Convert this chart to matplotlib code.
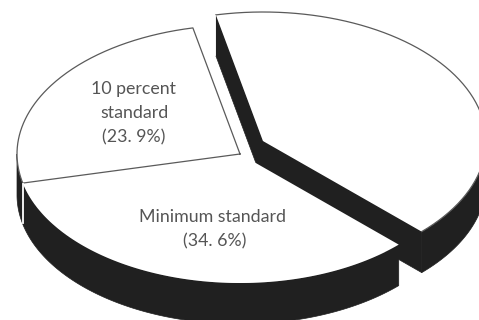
import numpy as np
import matplotlib
matplotlib.use("Agg")
import matplotlib.pyplot as plt

# Data
label_lines_a = ["10 percent", "standard", "(23. 9%)"]
label_lines_b = ["Minimum standard", "(34. 6%)"]
shares = [23.9, 34.6, 41.5]

# Layout (pixel-like axes)
CENTER = (240, 154)
EXPLODE = (23, -13)
RX, RY = 223, 129
DEPTH = 41
START = 102.4
DARK = "#202020"
EDGE = "#5a5a5a"


def warp(t):
    # the printed disk is drawn in slight perspective
    return t + 1.95 + 3.53 * np.sin(np.radians(t - 140))


def arc(c, a0, a1, n=200):
    t = np.radians(np.linspace(a0, a1, n))
    return c[0] + RX * np.cos(t), c[1] - RY * np.sin(t)


cum = START + np.concatenate([[0], np.cumsum(shares)]) * 3.6
edges = warp(cum)

fig = plt.figure(figsize=(4.79, 3.20), dpi=100)
ax = fig.add_axes([0, 0, 1, 1])
ax.set_xlim(0, 479)
ax.set_ylim(320, 0)
ax.axis("off")

c3 = (CENTER[0] + EXPLODE[0], CENTER[1] + EXPLODE[1])


def wall(xs, ys, z=1):
    ax.fill(np.r_[xs, xs[::-1]], np.r_[ys, ys[::-1] + DEPTH],
            color=DARK, lw=0.5, zorder=z, clip_on=True)


def cut_point(c, a):
    x, y = arc(c, a, a, 1)
    return x[0], y[0]


# Exploded slice: inner walls, outer wall, top
a0, a1 = edges[2], edges[3]
xa, ya = cut_point(c3, a0)
xb, yb = cut_point(c3, a1)
wall(np.array([xa, c3[0]]), np.array([ya, c3[1]]))
wall(np.array([c3[0], xb]), np.array([c3[1], yb]))
xs, ys = arc(c3, a0, 360)
wall(xs, ys)
xs, ys = arc(c3, a0, a1)
ax.fill(np.r_[c3[0], xs], np.r_[c3[1], ys], color="white", lw=0, zorder=2)
ax.plot(xs, ys, color=EDGE, lw=0.9, zorder=3)
ax.plot([xb - 1, xb - 1], [yb + 1, yb + DEPTH - 1], color="white", lw=1.3, zorder=3)

# Main disk: wall then tops
xs, ys = arc(CENTER, 180, edges[2])
wall(xs, ys, z=4)
for i in range(2):
    xs, ys = arc(CENTER, edges[i], edges[i + 1])
    ax.fill(np.r_[CENTER[0], xs], np.r_[CENTER[1], ys], color="white", lw=0, zorder=5)
xs, ys = arc(CENTER, edges[0], edges[1])
ax.plot(np.r_[CENTER[0], xs, CENTER[0]], np.r_[CENTER[1], ys, CENTER[1]],
        color=EDGE, lw=0.9, zorder=6)
xj, yj = cut_point(CENTER, edges[1])
ax.plot([xj, xj], [yj + 1, yj + DEPTH - 1], color="white", lw=1.3, zorder=6)

# Text
font = dict(family="Lato", fontsize=12.8, color="#555555", fontweight="normal",
            ha="center", va="center", zorder=7)
for y, s in zip([89, 113, 137], label_lines_a):
    ax.text(134, y, s, **font)
for (x, y), s in zip([(213, 217), (215, 241)], label_lines_b):
    ax.text(x, y, s, **font)

fig.savefig("out.png", dpi=100)
